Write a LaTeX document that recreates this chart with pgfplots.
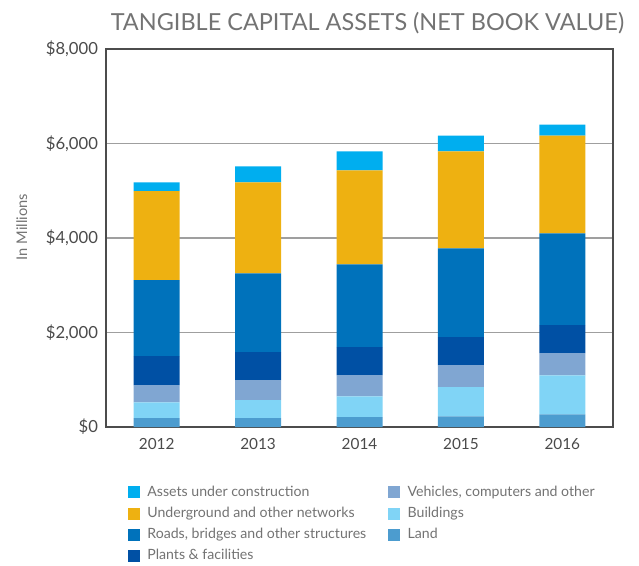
\documentclass[border=0pt]{standalone}
\usepackage{fontspec}
\setmainfont{Lato}
\usepackage{pgfplots}
\usepackage{pgfplotstable}
\pgfplotsset{compat=1.18}

\definecolor{cConstr}{HTML}{00AEEF}
\definecolor{cUnder}{HTML}{EEB111}
\definecolor{cRoads}{HTML}{0072BB}
\definecolor{cPlants}{HTML}{0050A4}
\definecolor{cVehic}{HTML}{80A6D2}
\definecolor{cBuild}{HTML}{80D4F6}
\definecolor{cLand}{HTML}{4C9CCF}
\definecolor{txtgray}{HTML}{4A4A4A}

% values in $ millions
\pgfplotstableread{
x land build vehic plants roads under constr
0 190 331 366 613 1606 1887 183
1 190 380 423 592 1669 1922 338
2 211 437 451 591 1754 1986 401
3 225 620 465 591 1881 2049 338
4 268 824 471 592 1944 2070 232
}\assets

\pgfplotsset{sq/.style={legend image code/.code={\fill[##1,draw=none] (0pt,-4.5pt) rectangle (9pt,4.5pt);}}}

\begin{document}
\begin{tikzpicture}
\path[use as bounding box] (-79.5pt,-103.5pt) rectangle (399.75pt,320.25pt);
\begin{axis}[scale only axis,width=380.25pt,height=283.5pt,
  ybar stacked,bar width=34.5pt,
  xmin=-0.5,xmax=4.5,ymin=0,ymax=8000,
  xtick={0,1,2,3,4},xticklabels={2012,2013,2014,2015,2016},
  ytick={0,2000,4000,6000,8000},
  yticklabels={{\$0},{\$2,000},{\$4,000},{\$6,000},{\$8,000}},
  major tick length=0pt,
  ymajorgrids=true,grid style={gray!75,line width=0.8pt},
  axis line style={black!70,line width=1pt},
  yticklabel style={font=\fontsize{12.5}{14}\selectfont,text=txtgray,xshift=-2.5pt},
  xticklabel style={font=\fontsize{11.5}{13}\selectfont,text=txtgray,yshift=-5pt},
  ylabel={In Millions},
  ylabel style={at={(axis description cs:-0.166,0.529)},anchor=center,
    font=\fontsize{11}{13}\selectfont,text=black!55},
  title={TANGIBLE CAPITAL ASSETS (NET BOOK VALUE)},
  title style={at={(axis description cs:1.031,1.047)},anchor=east,
    font=\fontsize{17.6}{20}\selectfont,text=black!55},
  legend columns=2,
  legend cell align=left,
  legend style={at={(axis description cs:0.035,-0.142)},anchor=north west,
    draw=none,font=\fontsize{10.6}{12.5}\selectfont,text=black!55,
    row sep=2.5pt,
    /tikz/every odd column/.append style={column sep=3.5pt},
    /tikz/every even column/.append style={column sep=14.5pt}},
]
\addplot[fill=cLand,draw=none,forget plot] table[x=x,y=land]{\assets};
\addplot[fill=cBuild,draw=none,forget plot] table[x=x,y=build]{\assets};
\addplot[fill=cVehic,draw=none,forget plot] table[x=x,y=vehic]{\assets};
\addplot[fill=cPlants,draw=none,forget plot] table[x=x,y=plants]{\assets};
\addplot[fill=cRoads,draw=none,forget plot] table[x=x,y=roads]{\assets};
\addplot[fill=cUnder,draw=none,forget plot] table[x=x,y=under]{\assets};
\addplot[fill=cConstr,draw=none,forget plot] table[x=x,y=constr]{\assets};
\addlegendimage{sq,fill=cConstr}\addlegendentry{Assets under construction}
\addlegendimage{sq,fill=cVehic}\addlegendentry{Vehicles, computers and other}
\addlegendimage{sq,fill=cUnder}\addlegendentry{Underground and other networks}
\addlegendimage{sq,fill=cBuild}\addlegendentry{Buildings}
\addlegendimage{sq,fill=cRoads}\addlegendentry{Roads, bridges and other structures}
\addlegendimage{sq,fill=cLand}\addlegendentry{Land}
\addlegendimage{sq,fill=cPlants}\addlegendentry{Plants \& facilities}
\end{axis}
\end{tikzpicture}
\end{document}
